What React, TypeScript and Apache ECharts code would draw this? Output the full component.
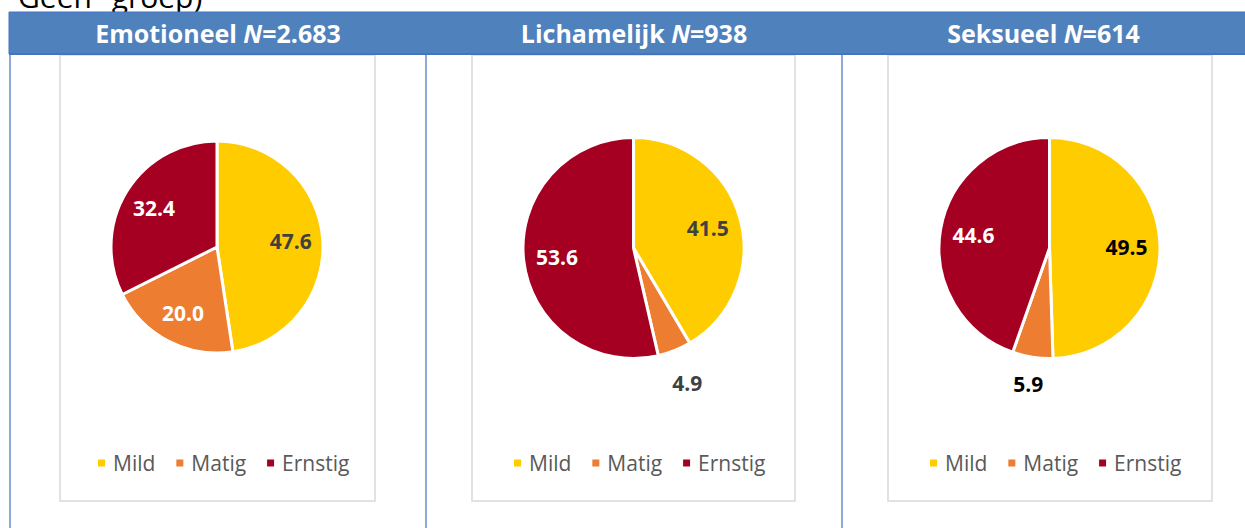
import React, { useEffect, useRef } from 'react';
import * as echarts from 'echarts';

// ---- data ----
const categories = ['Mild', 'Matig', 'Ernstig'];
const panelTitles = ['Emotioneel', 'Lichamelijk', 'Seksueel'];
const panelN = ['2.683', '938', '614'];
const emotioneel = [47.6, 20.0, 32.4];
const lichamelijk = [41.5, 4.9, 53.6];
const seksueel = [49.5, 5.9, 44.6];
const topNote = 'Geen" groep)';

// ---- styles / layout ----
const seriesValues = [emotioneel, lichamelijk, seksueel];
const outsideLabel = [
  [false, false, false],
  [false, true, false],
  [false, true, false],
];
const colors = ['#FFCC00', '#ED7D31', '#A50021'];
const labelColors = [
  ['#404040', '#FFFFFF', '#FFFFFF'],
  ['#404040', '#404040', '#FFFFFF'],
  ['#000000', '#000000', '#FFFFFF'],
];
const FONT = '"Open Sans", "Noto Sans", sans-serif';
const panels = [
  { cx: 217, cy: 247, r: 106, outR: 146, box: [60, 375], legendLeft: 96, titleX: 218 },
  { cx: 633.5, cy: 248, r: 110.5, outR: 142, box: [472, 795], legendLeft: 512, titleX: 634 },
  { cx: 1049.5, cy: 248, r: 110.5, outR: 135, box: [888, 1212], legendLeft: 928, titleX: 1043.5 },
];
const dividers = [10, 426, 842];

export default function App() {
  const ref = useRef<HTMLDivElement>(null);

  useEffect(() => {
    if (!ref.current) return;
    const chart = echarts.init(ref.current, undefined, { renderer: 'svg' });

    const series: any[] = [];
    panels.forEach((p, i) => {
      const values = seriesValues[i];
      series.push({
        type: 'pie',
        center: [p.cx, p.cy],
        radius: [0, p.r],
        startAngle: 90,
        clockwise: true,
        silent: true,
        z: 3,
        label: { show: false },
        labelLine: { show: false },
        emphasis: { disabled: true },
        itemStyle: { borderColor: '#FFFFFF', borderWidth: 3 },
        data: categories.map((name, k) => ({ name, value: values[k], itemStyle: { color: colors[k] } })),
      });
      const labelSeries = (radius: number, outside: boolean) => ({
        type: 'pie',
        center: [p.cx, p.cy],
        radius: [0, radius * 2],
        startAngle: 90,
        clockwise: true,
        silent: true,
        z: 4,
        emphasis: { disabled: true },
        itemStyle: { color: 'rgba(0,0,0,0)', borderWidth: 0 },
        labelLine: { show: false },
        label: {
          show: true,
          position: 'inside',
          fontFamily: FONT,
          fontSize: 21,
          fontWeight: 'bold',
          formatter: (prm: any) => Number(prm.value).toFixed(1),
        },
        data: categories.map((name, k) => ({
          name,
          value: values[k],
          label: { show: outsideLabel[i][k] === outside, color: labelColors[i][k] },
        })),
      });
      series.push(labelSeries(p.r * 0.67, false));
      series.push(labelSeries(p.outR, true));
    });

    const graphic: any[] = [
      {
        type: 'text',
        x: 18,
        y: 11,
        style: {
          text: topNote,
          font: `30px ${FONT}`,
          fill: '#000000',
          verticalAlign: 'bottom',
          align: 'left',
        },
        z: 1,
      },
      {
        type: 'rect',
        shape: { x: 9, y: 12, width: 1240, height: 42 },
        style: { fill: '#4F81BD', stroke: '#4472C4', lineWidth: 1 },
        z: 1,
      },
      {
        type: 'line',
        shape: { x1: 9, y1: 54, x2: 1245, y2: 54 },
        style: { stroke: '#4472C4', lineWidth: 2 },
        z: 1,
      },
      ...dividers.map((x) => ({
        type: 'line',
        shape: { x1: x, y1: 55, x2: x, y2: 528 },
        style: { stroke: '#8EA9DB', lineWidth: 2 },
        z: 1,
      })),
      ...panels.map((p) => ({
        type: 'rect',
        shape: { x: p.box[0], y: 55, width: p.box[1] - p.box[0], height: 501 - 55 },
        style: { fill: 'none', stroke: '#D9D9D9', lineWidth: 1.5 },
        z: 0,
      })),
    ];

    const option: any = {
      animation: false,
      backgroundColor: '#FFFFFF',
      title: panels.map((p, i) => ({
        text: `{b|${panelTitles[i]} }{i|N}{b|=${panelN[i]}}`,
        left: p.titleX,
        top: 18,
        textAlign: 'center',
        padding: 0,
        textStyle: {
          rich: {
            b: { fontFamily: FONT, fontSize: 25, fontWeight: 'bold', color: '#FFFFFF', lineHeight: 30 },
            i: { fontFamily: FONT, fontSize: 25, fontWeight: 'bold', fontStyle: 'italic', color: '#FFFFFF', lineHeight: 30 },
          },
        },
      })),
      legend: panels.map((p) => ({
        data: categories,
        left: p.legendLeft,
        top: 451,
        orient: 'horizontal',
        icon: 'rect',
        itemWidth: 9,
        itemHeight: 9,
        itemGap: 19,
        padding: 0,
        selectedMode: false,
        textStyle: { fontFamily: FONT, fontSize: 21, color: '#595959', lineHeight: 24, padding: [0, 0, 0, 2] },
      })),
      graphic,
      series,
    };
    chart.setOption(option);
    return () => chart.dispose();
  }, []);

  return (
    <div
      ref={ref}
      style={{ position: 'absolute', left: 0, top: 0, width: 1245, height: 528 }}
    />
  );
}
